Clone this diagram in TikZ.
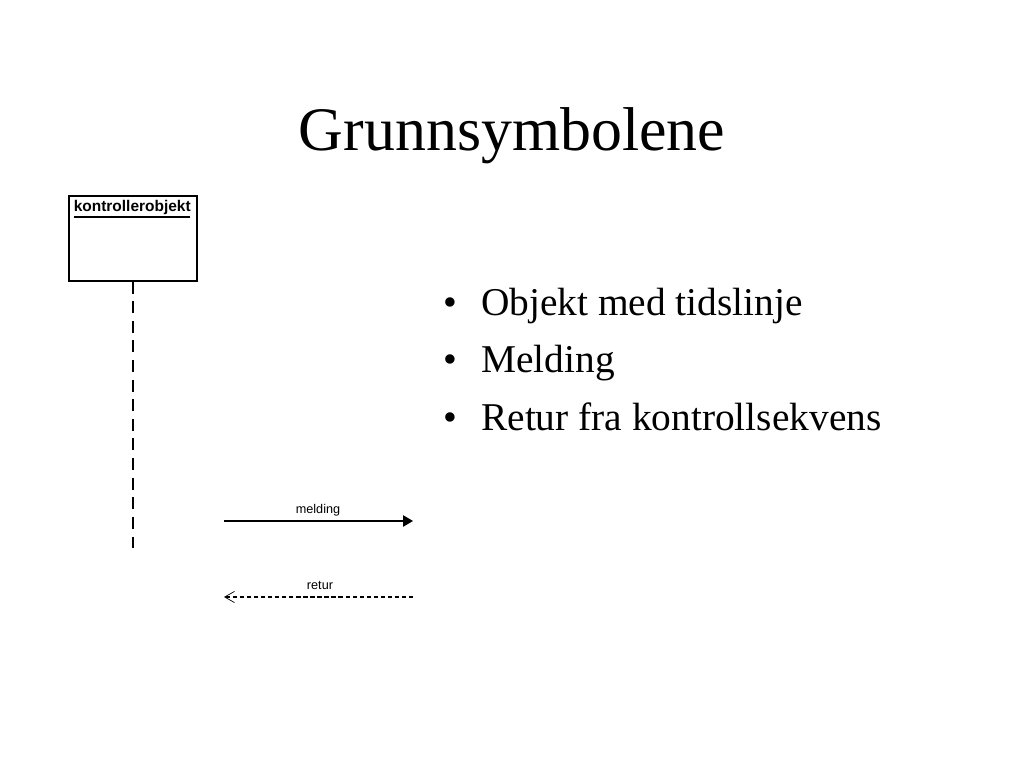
\documentclass[tikz,border=0pt]{standalone}
\usepackage{fontspec}
\setmainfont{Liberation Serif}
\setsansfont{Liberation Sans}
\usetikzlibrary{arrows.meta,positioning}

\begin{document}
\begin{tikzpicture}[
  x=0.025cm, y=-0.025cm,
  objbox/.style={rectangle, draw, line width=0.9pt, minimum width=3.2cm, minimum height=2.125cm, inner sep=0pt},
  objlabel/.style={font=\sffamily\bfseries\fontsize{11}{12}\selectfont, inner sep=0pt},
  lifeline/.style={line width=0.9pt, dash pattern=on 0.3cm off 0.19cm},
  msglabel/.style={font=\sffamily\fontsize{9}{10}\selectfont, inner sep=0pt},
  item/.style={font=\fontsize{28}{32}\selectfont, anchor=base west, inner sep=0pt},
]
\useasboundingbox (0,0) rectangle (1024,768);

% Title
\node[font=\fontsize{44}{50}\selectfont, inner sep=0pt] (title) at (512,136) {Grunnsymbolene};

% Object with lifeline
\node[objbox] (obj) at (133,238.5) {};
\node[objlabel, anchor=north west] (objname) at (73.5,200) {kontrollerobjekt};
\draw[line width=1pt] (74,217) coordinate (ulstart) -- (190,217) coordinate (ulend);
\coordinate (lifeend) at (133,548);
\draw[lifeline] (obj.south) -- (lifeend);

% Message arrow
\coordinate (msgstart) at (224,521);
\coordinate (msgend) at (413,521);
\draw[line width=0.9pt, -{Triangle[length=7pt, width=8pt]}] (msgstart) -- (msgend);
\node[msglabel] (msgtext) at (318,510) {melding};

% Return arrow
\coordinate (retstart) at (413,597);
\coordinate (retend) at (224,597);
\draw[line width=0.8pt, dash pattern=on 3pt off 2pt, -{Straight Barb[length=7pt, width=8pt, line width=0.5pt]}] (retstart) -- (retend);
\node[msglabel] (rettext) at (320,585) {retur};

% Bullets
\node[item] (b1) at (481,315) {Objekt med tidslinje};
\node[item] (b2) at (481,372.5) {Melding};
\node[item] (b3) at (481,430) {Retur fra kontrollsekvens};
\foreach \b in {b1,b2,b3}
  \node[item, anchor=base] at ([xshift=-31*0.025cm]\b.base west) {•};
\end{tikzpicture}
\end{document}
